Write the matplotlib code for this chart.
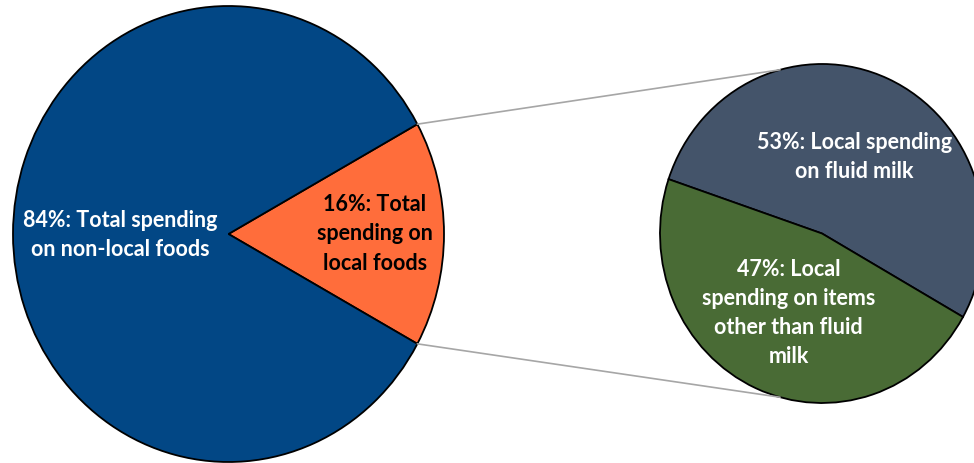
import matplotlib
matplotlib.use("Agg")
import matplotlib.pyplot as plt
from matplotlib.patches import ConnectionPatch
import numpy as np

# Data
main_labels = ["16%: Total\nspending on\nlocal foods", "84%: Total spending\non non-local foods"]
main_values = [16, 84]
sub_labels = ["53%: Local spending\non fluid milk", "47%: Local\nspending on items\nother than fluid\nmilk"]
sub_values = [53, 47]

main_colors = ["#FF6D3B", "#024785"]
sub_colors = ["#44546A", "#496B35"]
main_text_colors = ["black", "white"]
sub_text_colors = ["white", "white"]

W, H = 974, 463
fig = plt.figure(figsize=(W / 100, H / 100), dpi=100)
fig.patch.set_facecolor("white")

def px_axes(cx, cy, rx, ry):
    return fig.add_axes([(cx - rx) / W, (H - (cy + ry)) / H, 2 * rx / W, 2 * ry / H])

font = dict(family="Lato", fontweight="bold", fontsize=15.5, linespacing=1.48)

# Main pie (slightly elliptical as in reference)
ax1 = px_axes(228.5, 234, 215.5, 228)
half = main_values[0] / sum(main_values) * 360 / 2
w1, _ = ax1.pie(main_values, colors=main_colors, startangle=-half, counterclock=True,
                radius=1, wedgeprops=dict(edgecolor="black", linewidth=1.3))
ax1.set_aspect("auto")
ax1.set_xlim(-1, 1)
ax1.set_ylim(-1, 1)
ax1.set_axis_off()
main_pos = [(0.678, 0.0), (-0.503, -0.004)]
for lab, (x, y), c in zip(main_labels, main_pos, main_text_colors):
    ax1.text(x, y, lab, ha="center", va="center", color=c, **font)

# Sub pie
ax2 = px_axes(822, 233.5, 162, 169.5)
w2, _ = ax2.pie(sub_values, colors=sub_colors, startangle=-29.5, counterclock=True,
                radius=1, wedgeprops=dict(edgecolor="black", linewidth=1.3))
ax2.set_aspect("auto")
ax2.set_xlim(-1, 1)
ax2.set_ylim(-1, 1)
ax2.set_axis_off()
sub_pos = [(0.198, 0.451), (-0.206, -0.469)]
for lab, (x, y), c in zip(sub_labels, sub_pos, sub_text_colors):
    ax2.text(x, y, lab, ha="center", va="center", color=c, **font)

# Connector lines
th1, th2 = w1[0].theta1, w1[0].theta2
for t_main, t_sub in [(th2, 105), (th1, -105)]:
    xa, ya = np.cos(np.radians(t_main)), np.sin(np.radians(t_main))
    xb, yb = np.cos(np.radians(t_sub)), np.sin(np.radians(t_sub))
    con = ConnectionPatch(xyA=(xa, ya), coordsA=ax1.transData,
                          xyB=(xb, yb), coordsB=ax2.transData,
                          color="#A6A6A6", linewidth=1.2)
    fig.add_artist(con)

fig.savefig("out.png", dpi=100, facecolor="white")
